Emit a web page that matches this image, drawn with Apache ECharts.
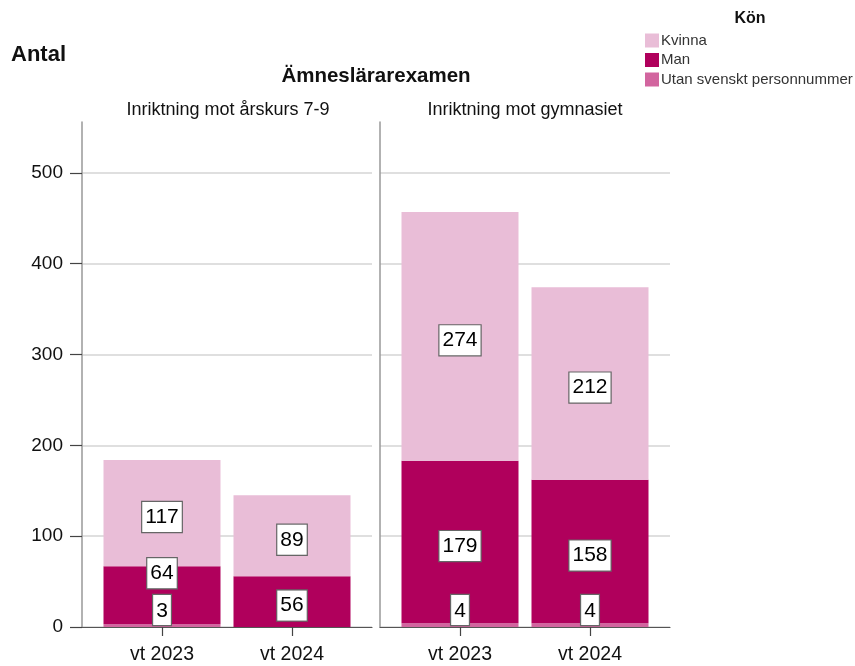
<!DOCTYPE html>
<html>
<head>
<meta charset="utf-8">
<script src="https://cdn.jsdelivr.net/npm/echarts@6/dist/echarts.min.js"></script>
<style>
html,body{margin:0;padding:0;background:#fff;}
#chart{width:855px;height:666px;}
</style>
</head>
<body>
<div id="chart"></div>
<script>
// ---- data ----
const categories = ['vt 2023', 'vt 2024'];
const panels = ['Inriktning mot årskurs 7-9', 'Inriktning mot gymnasiet'];
const seriesNames = ['Kvinna', 'Man', 'Utan svenskt personnummer'];
// values per panel: [vt 2023, vt 2024]
const utan = [[3, null], [4, 4]];
const man = [[64, 56], [179, 158]];
const kvinna = [[117, 89], [274, 212]];
const yTicks = [0, 100, 200, 300, 400, 500];

const colors = {
  'Kvinna': '#e9bdd7',
  'Man': '#b0005c',
  'Utan svenskt personnummer': '#d2659f'
};
const FONT = 'Liberation Sans, Arial, sans-serif';
const Y_MAX = 556;

// outer grids (axes frame) and inner grids (bars)
const outerLefts = [82, 380];
const innerLefts = [97, 395];
const grids = [
  ...outerLefts.map(l => ({ left: l, width: 290, top: 122, height: 505 })),
  ...innerLefts.map(l => ({ left: l, width: 260, top: 122, height: 505 }))
];

const xAxes = [
  ...outerLefts.map((l, p) => ({
    type: 'category', gridIndex: p, data: categories,
    axisLine: { show: true, lineStyle: { color: '#555', width: 1.2 } },
    axisTick: { show: false }, axisLabel: { show: false }, splitLine: { show: false }
  })),
  ...innerLefts.map((l, p) => ({
    type: 'category', gridIndex: 2 + p, data: categories,
    axisLine: { show: false },
    axisTick: { show: true, alignWithLabel: true, length: 9, lineStyle: { color: '#444', width: 1.2 } },
    axisLabel: { fontSize: 19.5, color: '#111', fontFamily: FONT, margin: 18 },
    splitLine: { show: false }
  }))
];

const yAxes = [
  ...outerLefts.map((l, p) => ({
    type: 'value', gridIndex: p, min: 0, max: Y_MAX,
    axisLine: { show: true, onZero: false, lineStyle: { color: '#999', width: 1.5 } },
    axisTick: { show: p === 0, customValues: yTicks, length: 12, lineStyle: { color: '#444', width: 1.2 } },
    axisLabel: { show: p === 0, customValues: yTicks, fontSize: 19, color: '#111', fontFamily: FONT, margin: 19 },
    splitLine: { show: true, lineStyle: { color: '#d4d4d4', width: 1.5 } }
  })),
  ...innerLefts.map((l, p) => ({
    type: 'value', gridIndex: 2 + p, min: 0, max: Y_MAX,
    axisLine: { show: false }, axisTick: { show: false }, axisLabel: { show: false }, splitLine: { show: false }
  }))
];

const labelBase = {
  show: true, color: '#000', fontSize: 21, fontFamily: FONT,
  backgroundColor: '#fff', borderColor: '#666', borderWidth: 1.2,
  padding: [6, 3, 3, 3]
};

const series = [];
for (let p = 0; p < 2; p++) {
  const groups = [
    ['Utan svenskt personnummer', utan[p]],
    ['Man', man[p]],
    ['Kvinna', kvinna[p]]
  ];
  groups.forEach(([name, arr]) => {
    const data = arr.map((v, i) => {
      const item = { value: v === null ? '-' : v };
      if (name === 'Man' && utan[p][i] && v < 100) {
        item.label = { offset: [0, -22] };
      }
      return item;
    });
    series.push({
      name, type: 'bar', stack: 'panel' + p, xAxisIndex: 2 + p, yAxisIndex: 2 + p,
      barWidth: 117, itemStyle: { color: colors[name] },
      label: Object.assign({}, labelBase, name === 'Utan svenskt personnummer'
        ? { position: 'insideBottom', distance: 2 } : { position: 'inside', offset: [0, 4] }),
      emphasis: { disabled: true },
      data
    });
  });
}

const option = {
  backgroundColor: '#fff',
  animation: false,
  textStyle: { fontFamily: FONT },
  title: [
    { text: 'Antal', left: 11, top: 44, padding: 0, textStyle: { fontSize: 22, fontWeight: 'bold', color: '#111', fontFamily: FONT } },
    { text: 'Ämneslärarexamen', left: 376, top: 66, padding: 0, textAlign: 'center', textStyle: { fontSize: 20.5, fontWeight: 'bold', color: '#111', fontFamily: FONT } },
    { text: panels[0], left: 228, top: 101, padding: 0, textAlign: 'center', textStyle: { fontSize: 18, fontWeight: 'normal', color: '#111', fontFamily: FONT } },
    { text: panels[1], left: 525, top: 101, padding: 0, textAlign: 'center', textStyle: { fontSize: 18, fontWeight: 'normal', color: '#111', fontFamily: FONT } },
    { text: 'Kön', left: 750, top: 11, padding: 0, textAlign: 'center', textStyle: { fontSize: 16, fontWeight: 'bold', color: '#111', fontFamily: FONT } }
  ],
  legend: {
    orient: 'vertical', left: 645, top: 33, padding: 0,
    itemWidth: 14, itemHeight: 14, itemGap: 4.5,
    icon: 'rect',
    data: seriesNames,
    textStyle: { fontSize: 15, color: '#333', fontFamily: FONT, padding: [0, 0, 0, -3] },
    selectedMode: false
  },
  grid: grids,
  xAxis: xAxes,
  yAxis: yAxes,
  series
};

const chart = echarts.init(document.getElementById('chart'), null, { renderer: 'canvas' });
chart.setOption(option);
</script>
</body>
</html>
